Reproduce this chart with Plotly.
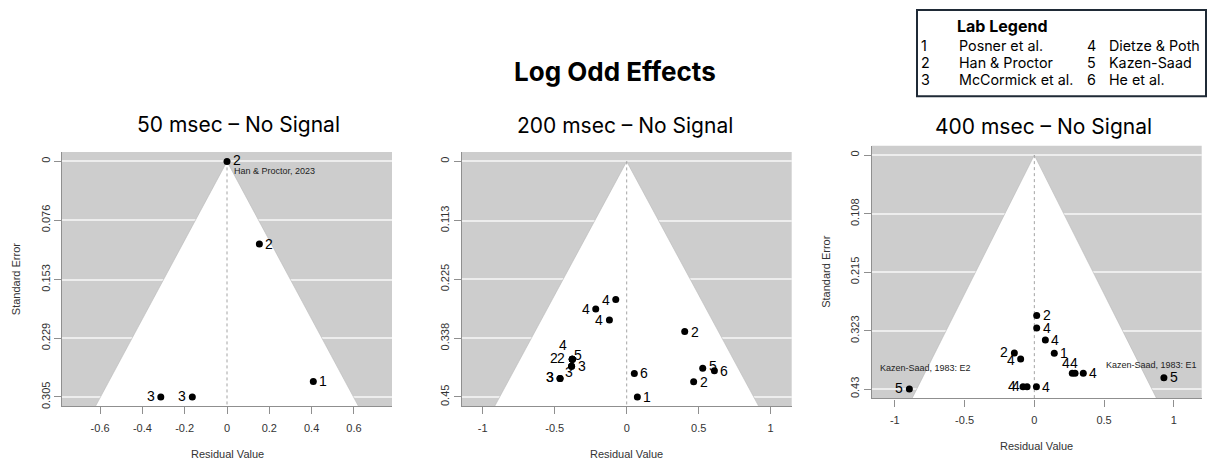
import plotly.graph_objects as go

# ---- data: residual value, standard error and lab number per study ----
res50 = [0.0, 0.153, 0.408, -0.313, -0.164]
se50 = [0.0, 0.107, 0.285, 0.305, 0.305]
lab50 = ["2", "2", "1", "3", "3"]

res200 = [-0.076, -0.215, -0.120, 0.403, 0.053, 0.074, 0.528, 0.609, 0.465,
          -0.378, -0.378, -0.378, -0.378, -0.383, -0.383, -0.463, -0.463]
se200 = [0.264, 0.282, 0.303, 0.325, 0.405, 0.450, 0.395, 0.400, 0.421,
         0.378, 0.378, 0.378, 0.378, 0.3915, 0.3915, 0.4146, 0.4146]
lab200 = ["4", "4", "4", "2", "6", "1", "5", "6", "2",
          "4", "2", "2", "5", "3", "3", "3", "3"]

res400 = [0.017, 0.017, 0.079, 0.143, -0.143, -0.098, 0.272, 0.292, 0.351,
          0.929, -0.896, -0.081, -0.052, 0.015]
se400 = [0.2946, 0.3177, 0.340, 0.3644, 0.3638, 0.3747, 0.401, 0.401, 0.401,
         0.4094, 0.430, 0.4257, 0.4257, 0.4257]
lab400 = ["2", "4", "4", "1", "2", "4", "4", "4", "4", "5", "5", "4", "4", "4"]

titles = ["50 msec \u2013 No Signal", "200 msec \u2013 No Signal", "400 msec \u2013 No Signal"]

ytick50 = ["0", "0.076", "0.153", "0.229", "0.305"]
ytick200 = ["0", "0.113", "0.225", "0.338", "0.45"]
ytick400 = ["0", "0.108", "0.215", "0.323", "0.43"]

xtick50 = ["-0.6", "-0.4", "-0.2", "0", "0.2", "0.4", "0.6"]
xtick200 = ["-1", "-0.5", "0", "0.5", "1"]
xtick400 = ["-1", "-0.5", "0", "0.5", "1"]

legend_labs = ["1", "2", "3", "4", "5", "6"]
legend_names = ["Posner et al.", "Han & Proctor", "McCormick et al.",
                "Dietze & Poth", "Kazen-Saad", "He et al."]

# ---- label placement (pixel offsets of each number from its dot) ----
off50 = [(10, -1), (10, 0), (10, 0), (-10, -1), (-10, -1)]
off200 = [(-10, 0), (-10, 0), (-10, 0), (10, 0), (10, 0), (10, 0), (10, -2), (10, 0), (10, 0),
          (-9, -14), (-18, -1), (-11, -1), (6, -4), (10, 0), (-3, 6), (-10, -1), (-10, -1)]
off400 = [(10, 0), (10, 0), (10, 0), (10, 0), (-10, -1), (-10, 1), (-6, -10), (-1, -10), (10, 0),
          (10, -1), (-10, -1), (-11, -1), (-11, -1), (10, 0)]

# study notes: (panel, residual, se, text, dx, dy, anchor)
notes = [
    (0, 0.0, 0.0, "Han & Proctor, 2023", 5, 10, "left"),
    (2, -0.896, 0.430, "Kazen-Saad, 1983: E2", 16, -21, "center"),
    (2, 0.929, 0.4094, "Kazen-Saad, 1983: E1", -12, -13, "center"),
]

W, H = 1210, 465
panels = [
    dict(res=res50, se=se50, lab=lab50, off=off50, yt=ytick50, xt=xtick50,
         box=(62, 392, 153, 409), xr=(-0.78, 0.78), title_xy=(238, 125),
         ytitle=True, xtitle_y=457),
    dict(res=res200, se=se200, lab=lab200, off=off200, yt=ytick200, xt=xtick200,
         box=(461.7, 791.7, 153, 409), xr=(-1.146, 1.146), title_xy=(625, 126),
         ytitle=False, xtitle_y=457),
    dict(res=res400, se=se400, lab=lab400, off=off400, yt=ytick400, xt=xtick400,
         box=(871.7, 1201.7, 146.7, 401), xr=(-1.166, 1.2), title_xy=(1043.7, 127),
         ytitle=True, xtitle_y=449),
]

GRAY_BG = "#cdcdcd"
AXIS_COL = "#8f8f8f"
TEXT_COL = "#333333"
NUM_FONT = dict(family="Liberation Sans, Arial", size=14, color="black")
TICK_FONT = dict(family="Liberation Sans, Arial", size=11, color=TEXT_COL)
HEAD_FONT = "Inter, Noto Sans, sans-serif"

fig = go.Figure()
layout = dict(width=W, height=H, margin=dict(l=0, r=0, t=0, b=0),
              paper_bgcolor="white", plot_bgcolor=GRAY_BG, showlegend=False)
annotations = []
shapes = []

for i, p in enumerate(panels):
    n = "" if i == 0 else str(i + 1)
    xa, ya = "x" + n, "y" + n
    left, right, top, bottom = p["box"]
    se_max = max(p["se"])
    y_lo, y_hi = -0.04 * se_max, 1.04 * se_max

    # white pseudo-confidence region: residual = +/- 1.96 * SE
    fig.add_trace(go.Scatter(
        x=[-1.96 * y_hi, 0, 1.96 * y_hi], y=[y_hi, 0, y_hi],
        mode="lines", fill="toself", fillcolor="white",
        line=dict(color="#b8b8b8", width=0.6),
        xaxis=xa, yaxis=ya, hoverinfo="skip"))
    # reference line at zero
    fig.add_trace(go.Scatter(
        x=[0, 0], y=[0, y_hi], mode="lines",
        line=dict(color="#9a9a9a", width=0.9, dash="dot"),
        xaxis=xa, yaxis=ya, hoverinfo="skip"))
    # studies
    fig.add_trace(go.Scatter(
        x=p["res"], y=p["se"], mode="markers",
        marker=dict(color="black", size=7),
        xaxis=xa, yaxis=ya))
    for r, s, lb, (dx, dy) in zip(p["res"], p["se"], p["lab"], p["off"]):
        annotations.append(dict(x=r, y=s, xref=xa, yref=ya, text=lb,
                                showarrow=False, xanchor="center", yanchor="middle",
                                xshift=dx, yshift=-dy, font=NUM_FONT))

    yvals = [float(t) for t in p["yt"]]
    xvals = [float(t) for t in p["xt"]]
    layout["xaxis" + n] = dict(
        domain=[left / W, right / W], anchor=ya, range=list(p["xr"]),
        tickvals=xvals, ticktext=p["xt"], ticks="outside", ticklen=7,
        tickcolor=AXIS_COL, showline=True, linecolor=AXIS_COL, linewidth=1.2,
        showgrid=False, zeroline=False, tickfont=TICK_FONT, ticklabelstandoff=4)
    layout["yaxis" + n] = dict(
        domain=[1 - bottom / H, 1 - top / H], anchor=xa, range=[y_hi, y_lo],
        tickvals=yvals, ticktext=p["yt"], ticks="outside", ticklen=7,
        tickcolor=AXIS_COL, showline=True, linecolor=AXIS_COL, linewidth=1.2,
        showgrid=True, gridcolor="#ededed", gridwidth=1.6, zeroline=False,
        tickangle=-90, tickfont=TICK_FONT)

    # panel title
    tx, ty = p["title_xy"]
    annotations.append(dict(x=tx / W, y=1 - ty / H, xref="paper", yref="paper",
                            text=titles[i], showarrow=False, xanchor="center",
                            yanchor="middle",
                            font=dict(family=HEAD_FONT, size=21, color="black")))
    # axis titles
    annotations.append(dict(x=(left + right) / 2 / W, y=1 - p["xtitle_y"] / H,
                            xref="paper", yref="paper", text="Residual Value",
                            showarrow=False, xanchor="center", yanchor="middle",
                            font=dict(family="Liberation Sans, Arial", size=11,
                                      color=TEXT_COL)))
    if p["ytitle"]:
        annotations.append(dict(x=(left - 46) / W, y=1 - (top + bottom) / 2 / H,
                                xref="paper", yref="paper", text="Standard Error",
                                showarrow=False, textangle=-90, xanchor="center",
                                yanchor="middle",
                                font=dict(family="Liberation Sans, Arial", size=11,
                                          color=TEXT_COL)))

for pi, r, s, txt, dx, dy, anchor in notes:
    n = "" if pi == 0 else str(pi + 1)
    annotations.append(dict(x=r, y=s, xref="x" + n, yref="y" + n, text=txt,
                            showarrow=False, xanchor=anchor, yanchor="middle",
                            xshift=dx, yshift=-dy,
                            font=dict(family="Liberation Sans, Arial", size=9,
                                      color="#222222")))

# main title
annotations.append(dict(x=615 / W, y=1 - 72 / H, xref="paper", yref="paper",
                        text="<b>Log Odd Effects</b>", showarrow=False,
                        xanchor="center", yanchor="middle",
                        font=dict(family=HEAD_FONT, size=26, color="black")))

# lab legend box
shapes.append(dict(type="rect", xref="paper", yref="paper",
                   x0=917 / W, x1=1206 / W, y0=1 - 97 / H, y1=1 - 10 / H,
                   line=dict(color="#1f2a36", width=2), fillcolor="white"))
annotations.append(dict(x=955 / W, y=1 - 26 / H, xref="paper", yref="paper",
                        text="<b>Lab Legend</b>", showarrow=False,
                        xanchor="left", yanchor="middle",
                        font=dict(family=HEAD_FONT, size=16, color="black")))
row_y = [45.5, 63, 80]
for k, (lb, nm) in enumerate(zip(legend_labs, legend_names)):
    col, row = divmod(k, 3)
    num_x = 919 if col == 0 else 1085
    name_x = 956.5 if col == 0 else 1106.5
    for xx, tt in ((num_x, lb), (name_x, nm)):
        annotations.append(dict(x=xx / W, y=1 - row_y[row] / H, xref="paper",
                                yref="paper", text=tt, showarrow=False,
                                xanchor="left", yanchor="middle",
                                font=dict(family=HEAD_FONT, size=14.3, color="black")))

layout["annotations"] = annotations
layout["shapes"] = shapes
fig.update_layout(**layout)
fig.write_html("out.html")
